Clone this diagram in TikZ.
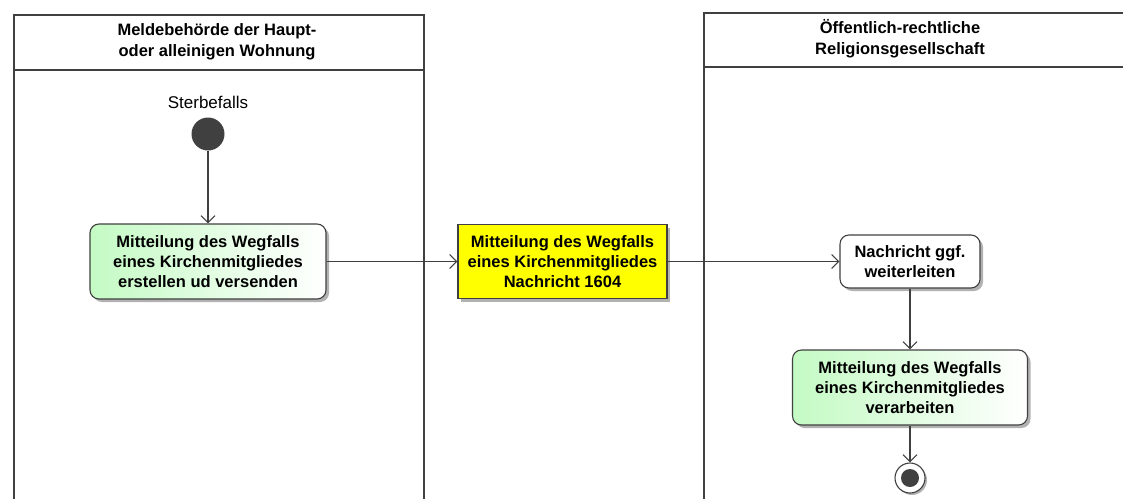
\documentclass[tikz,border=0pt]{standalone}
\usepackage{fontspec}
\setmainfont{Liberation Sans}
\usetikzlibrary{positioning,arrows.meta,shadows}
\definecolor{actgreen}{RGB}{196,250,196}
\definecolor{lanegray}{RGB}{64,64,64}
\definecolor{msgyellow}{RGB}{255,255,0}

\tikzset{
  lane/.style={draw=lanegray, line width=1.8pt},
  lanehead/.style={align=center, font=\fontsize{16.5pt}{21pt}\selectfont\bfseries},
  box/.style={draw=black!75, line width=1.1pt, align=center,
    font=\fontsize{16.5pt}{20pt}\selectfont\bfseries,
    drop shadow={shadow xshift=3pt, shadow yshift=-3pt, fill=black!30, opacity=1}},
  act/.style={box, rounded corners=9pt, left color=actgreen, right color=white},
  plain act/.style={box, rounded corners=9pt, fill=white},
  msg/.style={box, fill=msgyellow},
  flow/.style={draw=black!75, line width=1.1pt, -{Straight Barb[length=7pt,width=14pt]}},
}

\begin{document}
\begin{tikzpicture}[x=1pt, y=-1pt]
  \clip (0,0) rectangle (1123,498);

  % Swimlanes
  \draw[lane] (14,520) -- (14,15) -- (424,15) -- (424,520);
  \draw[lane] (14,70) -- (424,70);
  \draw[lane] (704,520) -- (704,13) -- (1140,13);
  \draw[lane] (704,67) -- (1140,67);
  \node[lanehead] (laneA) at (217,42) {Meldebehörde der Haupt-\\oder alleinigen Wohnung};
  \node[lanehead] (laneB) at (900,39) {Öffentlich-rechtliche\\Religionsgesellschaft};

  % Start
  \node[circle, fill=lanegray, minimum size=33pt, inner sep=0pt] (start) at (208,134) {};
  \node[font=\fontsize{17pt}{20pt}\selectfont] (startlbl) at (208,102) {Sterbefalls};

  % Activities
  \node[act, minimum width=236pt, minimum height=75pt] (create) at (208,261.5)
    {Mitteilung des Wegfalls\\eines Kirchenmitgliedes\\erstellen ud versenden};
  \node[msg, minimum width=209pt, minimum height=74pt] (msg1604) at (562.5,261.5)
    {Mitteilung des Wegfalls\\eines Kirchenmitgliedes\\Nachricht 1604};
  \node[plain act, minimum width=140pt, minimum height=53pt] (forward) at (910,261.5)
    {Nachricht ggf.\\weiterleiten};
  \node[act, minimum width=235pt, minimum height=75pt] (process) at (910,387.5)
    {Mitteilung des Wegfalls\\eines Kirchenmitgliedes\\verarbeiten};

  % End
  \node[circle, draw=lanegray, line width=1.1pt, fill=white, minimum size=30pt, inner sep=0pt,
    drop shadow={shadow xshift=2pt, shadow yshift=-2pt, fill=black!30, opacity=1}] (stop) at (910,478) {};
  \fill[lanegray] (stop.center) circle (9);

  % Flows
  \draw[flow] (start) -- (create);
  \draw[flow] (create) -- (msg1604);
  \draw[flow] (msg1604) -- (forward);
  \draw[flow] (forward) -- (process);
  \draw[flow] (process) -- (stop);
\end{tikzpicture}
\end{document}
